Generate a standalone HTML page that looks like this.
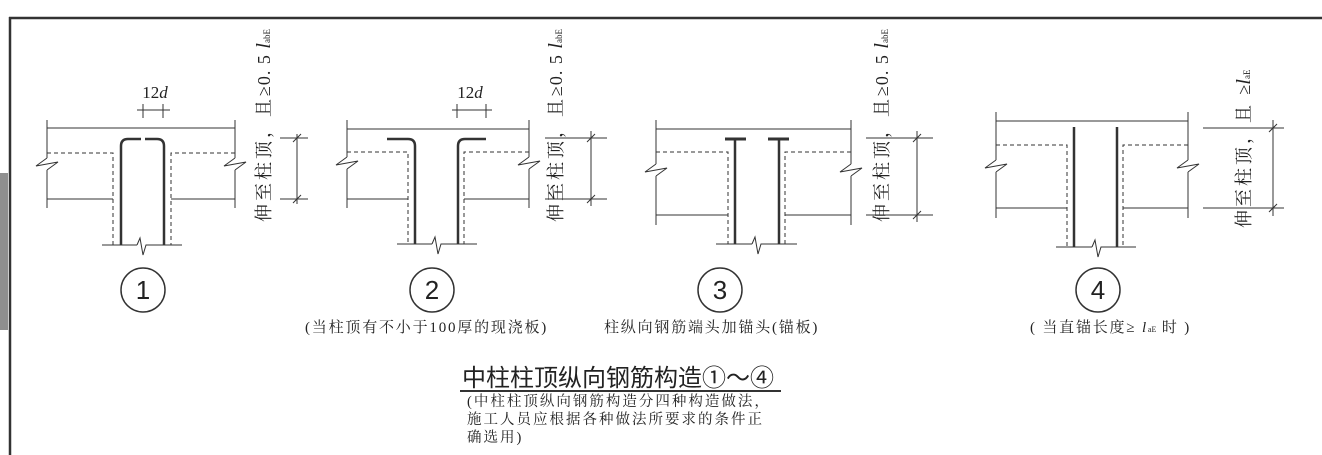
<!DOCTYPE html>
<html><head><meta charset="utf-8"><style>
html,body{margin:0;padding:0;background:#fff;}
svg{display:block;}
text{font-family:"Liberation Serif","Noto Serif CJK SC","Noto Sans CJK SC",serif;fill:#222;}
.s{font-family:"Liberation Sans","Noto Sans CJK SC",sans-serif;}
</style></head><body>
<svg width="1322" height="455" viewBox="0 0 1322 455" xmlns="http://www.w3.org/2000/svg">
<rect x="0" y="173" width="8" height="157" fill="#8f8f8f"/>
<line x1="9" y1="18" x2="1322" y2="18" stroke="#333" stroke-width="2.5"/>
<line x1="10" y1="17" x2="10" y2="455" stroke="#333" stroke-width="2.5"/>
<g stroke="#333" fill="none" stroke-width="1">
<!-- Diagram 1 -->
<line x1="47" y1="128" x2="235" y2="128"/>
<line x1="47" y1="120" x2="47" y2="158"/><line x1="47" y1="170" x2="47" y2="208"/>
<line x1="235" y1="120" x2="235" y2="158"/><line x1="235" y1="170" x2="235" y2="208"/>
<polyline points="47,158 36,166 58,162 47,170"/>
<polyline points="235,158 224,166 246,162 235,170"/>
<line x1="47" y1="199" x2="113" y2="199"/><line x1="171" y1="199" x2="235" y2="199"/>
<polyline points="47,153 113,153 113,245" stroke-dasharray="4,3"/>
<polyline points="235,153 171,153 171,245" stroke-dasharray="4,3"/>
<line x1="102" y1="245" x2="137" y2="245"/><polyline points="137,245 140,238 143,255 146,245 182,245"/>
<path d="M121,245 V146 Q121,139 128,139 H141" stroke-width="2.5"/>
<path d="M164,245 V146 Q164,139 157,139 H145" stroke-width="2.5"/>
<line x1="137" y1="110" x2="170" y2="110"/><line x1="143" y1="104" x2="143" y2="118"/><line x1="163" y1="104" x2="163" y2="118"/>
<line x1="280" y1="138" x2="308" y2="138"/><line x1="280" y1="199" x2="308" y2="199"/><line x1="297" y1="134" x2="297" y2="204"/>
<line x1="293" y1="142" x2="301" y2="134"/><line x1="293" y1="203" x2="301" y2="195"/>
<circle cx="143" cy="290" r="22" stroke-width="1.5"/>
<!-- Diagram 2 -->
<line x1="347" y1="129" x2="529" y2="129"/>
<line x1="347" y1="120" x2="347" y2="157"/><line x1="347" y1="169" x2="347" y2="208"/>
<line x1="529" y1="120" x2="529" y2="157"/><line x1="529" y1="169" x2="529" y2="208"/>
<polyline points="347,157 336,165 358,161 347,169"/>
<polyline points="529,157 518,165 540,161 529,169"/>
<line x1="347" y1="199" x2="408" y2="199"/><line x1="464" y1="199" x2="529" y2="199"/>
<polyline points="347,152 408,152 408,244" stroke-dasharray="4,3"/>
<polyline points="529,152 464,152 464,244" stroke-dasharray="4,3"/>
<line x1="397" y1="244" x2="432" y2="244"/><polyline points="432,244 435,237 438,254 441,244 477,244"/>
<path d="M415,244 V146 Q415,139 408,139 H387" stroke-width="2.5"/>
<path d="M458,244 V146 Q458,139 465,139 H486" stroke-width="2.5"/>
<line x1="452" y1="110" x2="492" y2="110"/><line x1="457" y1="104" x2="457" y2="118"/><line x1="486" y1="104" x2="486" y2="118"/>
<line x1="545" y1="138" x2="607" y2="138"/><line x1="545" y1="199" x2="607" y2="199"/><line x1="591" y1="131" x2="591" y2="206"/>
<line x1="587" y1="142" x2="595" y2="134"/><line x1="587" y1="203" x2="595" y2="195"/>
<circle cx="432" cy="290" r="22" stroke-width="1.5"/>
<!-- Diagram 3 -->
<line x1="656" y1="129" x2="851" y2="129"/>
<line x1="656" y1="120" x2="656" y2="164"/><line x1="656" y1="176" x2="656" y2="225"/>
<line x1="851" y1="120" x2="851" y2="164"/><line x1="851" y1="176" x2="851" y2="225"/>
<polyline points="656,164 645,172 667,168 656,176"/>
<polyline points="851,164 840,172 862,168 851,176"/>
<line x1="656" y1="215" x2="728" y2="215"/><line x1="785" y1="215" x2="851" y2="215"/>
<polyline points="656,152 728,152 728,244" stroke-dasharray="4,3"/>
<polyline points="851,152 785,152 785,244" stroke-dasharray="4,3"/>
<line x1="716" y1="244" x2="752" y2="244"/><polyline points="752,244 755,237 758,254 761,244 797,244"/>
<line x1="735" y1="139" x2="735" y2="244" stroke-width="2.5"/>
<line x1="779" y1="139" x2="779" y2="244" stroke-width="2.5"/>
<line x1="725" y1="139" x2="746" y2="139" stroke-width="3"/><line x1="768" y1="139" x2="789" y2="139" stroke-width="3"/>
<line x1="866" y1="138" x2="933" y2="138"/><line x1="866" y1="215" x2="933" y2="215"/><line x1="917" y1="131" x2="917" y2="222"/>
<line x1="913" y1="142" x2="921" y2="134"/><line x1="913" y1="219" x2="921" y2="211"/>
<circle cx="720" cy="290" r="22" stroke-width="1.5"/>
<!-- Diagram 4 -->
<line x1="996" y1="121" x2="1188" y2="121"/>
<line x1="996" y1="112" x2="996" y2="160"/><line x1="996" y1="172" x2="996" y2="218"/>
<line x1="1188" y1="112" x2="1188" y2="160"/><line x1="1188" y1="172" x2="1188" y2="218"/>
<polyline points="996,160 985,168 1007,164 996,172"/>
<polyline points="1188,160 1177,168 1199,164 1188,172"/>
<line x1="996" y1="208" x2="1067" y2="208"/><line x1="1123" y1="208" x2="1188" y2="208"/>
<polyline points="996,145 1067,145 1067,247" stroke-dasharray="4,3"/>
<polyline points="1188,145 1123,145 1123,247" stroke-dasharray="4,3"/>
<line x1="1056" y1="247" x2="1092" y2="247"/><polyline points="1092,247 1095,240 1098,257 1101,247 1136,247"/>
<line x1="1074" y1="127" x2="1074" y2="247" stroke-width="2.5"/>
<line x1="1117" y1="127" x2="1117" y2="247" stroke-width="2.5"/>
<line x1="1203" y1="128" x2="1284" y2="128"/><line x1="1203" y1="208" x2="1284" y2="208"/><line x1="1273" y1="120" x2="1273" y2="216"/>
<line x1="1269" y1="132" x2="1277" y2="124"/><line x1="1269" y1="212" x2="1277" y2="204"/>
<circle cx="1098" cy="290" r="22" stroke-width="1.5"/>
<line x1="460" y1="391" x2="781" y2="391" stroke-width="2"/>
</g>
<g font-size="26" class="s" text-anchor="middle">
<text x="143" y="299" class="s">1</text><text x="432" y="299" class="s">2</text>
<text x="720" y="299" class="s">3</text><text x="1098" y="299" class="s">4</text>
</g>
<text x="155" y="98" font-size="17" text-anchor="middle">12<tspan font-style="italic">d</tspan></text>
<text x="470" y="98" font-size="17" text-anchor="middle">12<tspan font-style="italic">d</tspan></text>
<g font-size="18">
<text transform="translate(270,222) rotate(-90)"><tspan letter-spacing="3">伸至柱顶，且</tspan><tspan letter-spacing="1">≥0. 5 </tspan><tspan font-style="italic" font-size="20">l</tspan><tspan font-size="9">abE</tspan></text>
<text transform="translate(562,222) rotate(-90)"><tspan letter-spacing="3">伸至柱顶，且</tspan><tspan letter-spacing="1">≥0. 5 </tspan><tspan font-style="italic" font-size="20">l</tspan><tspan font-size="9">abE</tspan></text>
<text transform="translate(888,222) rotate(-90)"><tspan letter-spacing="3">伸至柱顶，且</tspan><tspan letter-spacing="1">≥0. 5 </tspan><tspan font-style="italic" font-size="20">l</tspan><tspan font-size="9">abE</tspan></text>
<text transform="translate(1250,228) rotate(-90)"><tspan letter-spacing="3">伸至柱顶，且 </tspan>≥<tspan font-style="italic" font-size="20">l</tspan><tspan font-size="9">aE</tspan></text>
</g>
<g font-size="15" letter-spacing="1.8">
<text x="305" y="332">(当柱顶有不小于100厚的现浇板)</text>
<text x="604" y="332">柱纵向钢筋端头加锚头(锚板)</text>
<text x="1030" y="332">( 当直锚长度≥ <tspan font-style="italic">l</tspan><tspan font-size="8" letter-spacing="0">aE</tspan> 时 )</text>
</g>
<text x="462" y="386" font-size="24" class="s">中柱柱顶纵向钢筋构造①～④</text>
<g font-size="14.5" letter-spacing="2">
<text x="467" y="406">(中柱柱顶纵向钢筋构造分四种构造做法，</text>
<text x="467" y="424">施工人员应根据各种做法所要求的条件正</text>
<text x="467" y="442">确选用)</text>
</g>
</svg>
</body></html>
